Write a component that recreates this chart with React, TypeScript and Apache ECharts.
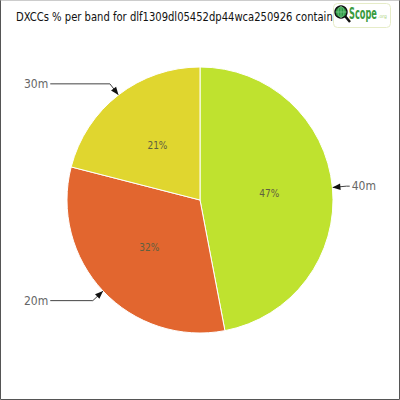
import React, { useEffect, useRef } from "react";
import * as echarts from "echarts";

const bands = ["40m", "20m", "30m"];
const shares = [47, 32, 21];
const colors = ["#bfe22f", "#e2662f", "#e0d62f"];
const titleText = "DXCCs % per band for dlf1309dl05452dp44wca250926 contain";

const FONT = "'DejaVu Sans Condensed', 'DejaVu Sans', sans-serif";

function measure(text: string, font: string): number {
  const c = document.createElement("canvas").getContext("2d");
  if (!c) return text.length * 7;
  c.font = font;
  return c.measureText(text).width;
}

export default function App() {
  const ref = useRef<HTMLDivElement>(null);
  useEffect(() => {
    if (!ref.current) return;
    const chart = echarts.init(ref.current, undefined, { renderer: "svg" });
    const cx = 200, cy = 200, R = 133;
    const total = shares.reduce((a, b) => a + b, 0);
    const arrows: any[] = [];
    let acc = 0;
    shares.forEach((v) => {
      const mid = ((acc + v / 2) / total) * Math.PI * 2;
      acc += v;
      const dx = Math.sin(mid), dy = -Math.cos(mid);
      const tip = [cx + R * dx, cy + R * dy];
      const base = [cx + (R + 8) * dx, cy + (R + 8) * dy];
      const px = -dy, py = dx;
      arrows.push({
        type: "polygon",
        silent: true,
        z: 100,
        shape: {
          points: [
            tip,
            [base[0] + 3.2 * px, base[1] + 3.2 * py],
            [base[0] - 3.2 * px, base[1] - 3.2 * py],
          ],
        },
        style: { fill: "#111" },
      });
    });
    const titleFont = "13px " + FONT;
    const titleScale = 317 / measure(titleText, titleFont);
    const scopeFont = "bold 15px " + FONT;
    const scopeScale = 28 / measure("Scope", scopeFont);
    const data = bands.map((b, i) => ({
      name: b,
      value: shares[i],
      itemStyle: { color: colors[i] },
    }));
    chart.setOption({
      animation: false,
      backgroundColor: "#fff",
      graphic: [
        {
          type: "rect",
          silent: true,
          shape: { x: 0.5, y: 0.5, width: 399, height: 399 },
          style: { fill: "none", stroke: "#555", lineWidth: 1 },
        },
        {
          type: "line",
          silent: true,
          shape: { x1: 1, y1: 0.5, x2: 399, y2: 0.5 },
          style: { stroke: "#ccc", lineWidth: 1 },
        },
        {
          type: "text",
          silent: true,
          x: 16,
          y: 17,
          scaleX: titleScale,
          style: {
            text: titleText,
            fill: "#111",
            font: titleFont,
            verticalAlign: "middle",
          },
        },
        {
          type: "rect",
          silent: true,
          shape: { x: 333.5, y: 3.5, width: 57, height: 24, r: 4 },
          style: { fill: "#fff", stroke: "#e6ecc8", lineWidth: 1 },
        },
        {
          type: "line",
          silent: true,
          shape: { x1: 345, y1: 16, x2: 350, y2: 22 },
          style: { stroke: "#111", lineWidth: 2.5 },
        },
        {
          type: "circle",
          silent: true,
          shape: { cx: 341, cy: 12, r: 6 },
          style: { fill: "#2f9a45", stroke: "#111", lineWidth: 1.4 },
        },
        {
          type: "line",
          silent: true,
          shape: { x1: 335.5, y1: 12, x2: 346.5, y2: 12 },
          style: { stroke: "#8fd49a", lineWidth: 0.6 },
        },
        {
          type: "line",
          silent: true,
          shape: { x1: 341, y1: 6.5, x2: 341, y2: 17.5 },
          style: { stroke: "#8fd49a", lineWidth: 0.6 },
        },
        {
          type: "ellipse",
          silent: true,
          shape: { cx: 341, cy: 12, rx: 3, ry: 5.5 },
          style: { fill: "none", stroke: "#8fd49a", lineWidth: 0.6 },
        },
        {
          type: "text",
          silent: true,
          x: 349,
          y: 14,
          scaleX: scopeScale,
          style: {
            text: "Scope",
            fill: "#3a9b3f",
            font: scopeFont,
            verticalAlign: "middle",
          },
        },
        {
          type: "text",
          silent: true,
          x: 378,
          y: 16,
          style: {
            text: ".org",
            fill: "#a9d27c",
            font: "5px " + FONT,
            verticalAlign: "middle",
          },
        },
        ...arrows,
      ],
      series: [
        {
          type: "pie",
          center: [cx, cy],
          radius: R,
          startAngle: 90,
          clockwise: true,
          silent: true,
          percentPrecision: 0,
          itemStyle: { borderColor: "#fff", borderWidth: 1 },
          label: {
            show: true,
            position: "outside",
            alignTo: "edge",
            edgeDistance: 24,
            overflow: "none",
            formatter: "{b}",
            color: "#666",
            fontFamily: FONT,
            fontSize: 12,
            distanceToLabelLine: 2,
          },
          labelLine: {
            show: true,
            length: 14,
            length2: 10,
            lineStyle: { color: "#444", width: 1 },
          },
          data,
        },
        {
          type: "pie",
          center: [cx, cy],
          radius: R,
          startAngle: 90,
          clockwise: true,
          silent: true,
          percentPrecision: 0,
          itemStyle: { color: "transparent", borderWidth: 0 },
          label: {
            show: true,
            position: "inside",
            formatter: "{d}%",
            color: "#5f6040",
            fontFamily: FONT,
            fontSize: 10,
          },
          labelLine: { show: false },
          data: bands.map((b, i) => ({ name: b, value: shares[i] })),
        },
      ],
    });
    return () => chart.dispose();
  }, []);
  return (
    <div
      ref={ref}
      style={{ position: "absolute", left: 0, top: 0, width: 400, height: 400 }}
    />
  );
}
